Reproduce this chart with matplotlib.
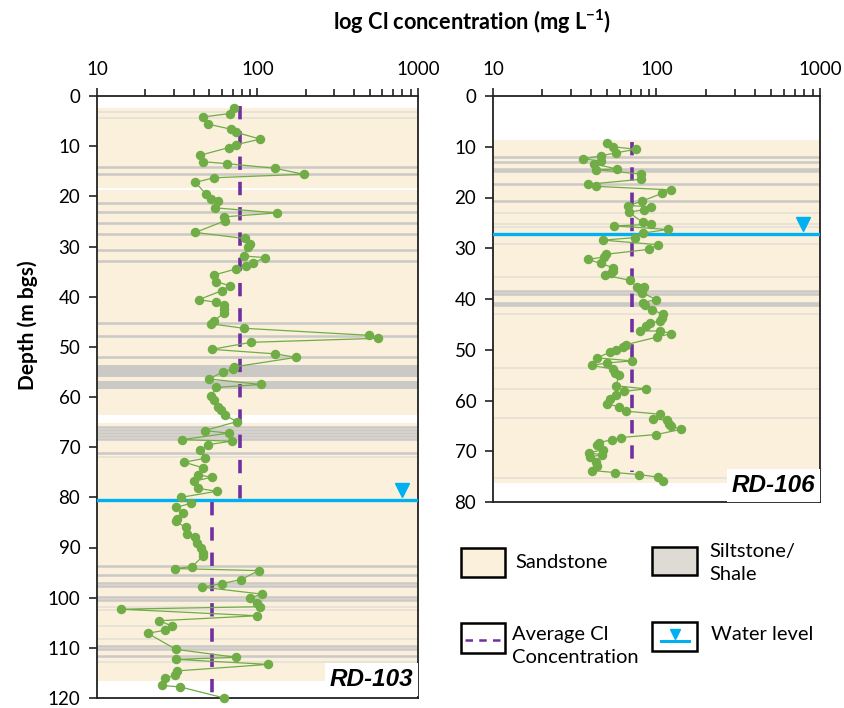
import matplotlib
matplotlib.use("Agg")
import matplotlib.pyplot as plt
from matplotlib.patches import Rectangle
from matplotlib.lines import Line2D
import numpy as np

plt.rcParams['font.family'] = ['Lato', 'DejaVu Sans']
plt.rcParams['mathtext.default'] = 'regular'

# ---------------- data ----------------
rd103_depth = [2.3, 3.5, 4.2, 5.6, 6.6, 7.2, 8.6, 9.7, 10.3, 11.8, 13.1, 13.5, 14.4, 15.6, 16.3, 17.2,
               19.5, 20.5, 21.0, 22.3, 23.3, 24.1, 24.9, 27.2, 28.4, 29.6, 30.1, 31.9, 32.2, 33.3, 33.9,
               34.5, 35.7, 37.0, 37.8, 38.8, 40.6, 41.1, 41.7, 42.5, 43.3, 44.8, 45.4, 46.3, 47.7, 48.3,
               49.1, 50.5, 51.4, 52.1, 54.0, 54.4, 55.0, 56.4, 57.5, 58.1, 59.9, 60.5, 61.9, 62.6, 63.6,
               64.9, 66.7, 67.2, 68.5, 68.8, 69.5, 70.6, 72.2, 73.0, 74.1, 75.5, 76.0, 76.8, 78.2, 78.8,
               80.0, 81.2, 82.0, 83.1, 84.3, 84.8, 86.0, 87.3, 88.0, 89.1, 90.1, 91.1, 91.6, 93.8, 94.2,
               94.6, 96.4, 97.2, 97.9, 99.3, 100.0, 101.1, 101.8, 102.3, 103.6, 104.6, 105.7, 106.5,
               107.1, 110.3, 111.9, 112.3, 113.3, 114.6, 115.5, 116.0, 117.5, 117.8, 120.0]
rd103_cl = [71, 67, 45.5, 49, 68, 73, 104, 73.5, 66, 44, 46, 65, 128, 194, 53.6, 41,
            47.6, 51.3, 56.7, 54.6, 132, 61.5, 62.4, 41, 83, 90, 87, 82, 111, 94, 85,
            73, 53.4, 55, 67, 60, 43, 55, 62, 62, 61.5, 53.6, 51, 82, 493, 561,
            91, 52, 129, 174, 71.4, 70, 61.3, 49.6, 105, 55.2, 51.3, 53.4, 56.7, 59.4, 62.4,
            74.4, 46.9, 66, 33.9, 68.9, 49.4, 44.1, 47.3, 35, 45.5, 42.4, 51.8, 40.2, 42.6, 55.6,
            33.4, 38.5, 31, 34.3, 31.7, 31, 35.7, 36.2, 40.8, 41.7, 44.6, 45.5, 46, 39.3, 30.7,
            102, 78.8, 59.8, 45.3, 107, 90, 98.9, 104, 14.1, 99.8, 24.5, 29.5, 26.4,
            20.7, 31, 73.9, 31, 117, 31.5, 30.7, 26.6, 25.4, 33.1, 62]

rd106_depth = [9.3, 10.0, 10.5, 11.2, 11.8, 12.4, 12.8, 13.4, 14.4, 14.5, 15.4, 16.4, 17.4, 17.8, 18.5,
               19.2, 20.7, 21.6, 21.8, 22.4, 22.9, 24.9, 25.3, 25.6, 26.3, 27.0, 27.9, 28.4, 29.3, 30.2,
               31.2, 31.7, 32.2, 33.0, 33.8, 34.4, 34.9, 35.3, 36.3, 37.6, 37.7, 38.1, 38.8, 40.1, 40.7,
               41.2, 42.1, 43.0, 43.8, 44.4, 44.7, 45.3, 46.3, 46.3, 46.8, 47.5, 49.0, 49.4, 50.0, 50.5,
               51.6, 52.2, 52.6, 53.1, 53.8, 54.5, 55.0, 57.1, 57.7, 58.2, 59.0, 59.8, 60.6, 61.3, 62.1,
               62.7, 63.6, 63.9, 64.6, 65.0, 65.7, 66.7, 67.3, 67.7, 68.3, 68.8, 69.7, 70.3, 70.7, 71.1,
               72.1, 73.0, 73.8, 74.2, 74.6, 75.1, 75.9]
rd106_cl = [49.6, 54, 75, 56.3, 45.6, 35.4, 46, 41.7, 57.6, 42.8, 80.7, 80.7, 38.3, 42.5, 122,
            107.6, 81.8, 67.3, 92, 83.9, 67.8, 82.2, 92, 55.2, 117, 83, 74.3, 47.3, 102, 90.5,
            48.8, 48, 38.3, 45.7, 54, 54, 52.5, 48.2, 68.5, 76, 84, 79, 81.8, 100, 82.6,
            85.6, 94, 109, 108, 105, 91, 86, 79, 105, 123, 101, 64.9, 62.3, 56.3, 51.6,
            43.5, 71, 49.6, 40.2, 54, 55.5, 58.9, 56.6, 86, 63.7, 56.3, 52, 50.1, 59.2, 65.1,
            105, 94.8, 116, 119, 122, 141, 100, 60.4, 53.6, 44.7, 43.5, 47.3, 38.5, 46.5, 39.4,
            42.6, 43.5, 40.3, 55.9, 78.3, 102, 109]

# averages: (value, depth_from, depth_to)
rd103_avg = [(77.8, 2.0, 81.0), (52.0, 81.0, 120.0)]
rd106_avg = [(70.8, 9.0, 74.0)]

rd103_water = 80.5
rd106_water = 27.2

# lithology
rd103_sand = (2.3, 116.6)
rd103_gaps = [(18.3, 18.7), (63.6, 65.1)]
rd103_shale_bands = [(53.6, 56.0), (56.8, 58.5)]
rd103_shale = [14.2, 15.6, 21.4, 23.2, 25.4, 27.5, 30.6, 32.8, 45.3, 47.9, 52.1,
               66.0, 66.6, 67.2, 67.8, 68.4, 71.2, 93.7, 95.5, 97.0, 97.6, 99.8, 100.4,
               109.7, 110.3, 111.7]
rd103_light = [3.1, 4.4, 71.9, 101.9, 102.4, 105.7, 108.3, 112.8]

rd106_sand = (8.7, 76.2)
rd106_shale = [12.0, 13.1, 14.3, 14.7, 17.3, 20.6, 38.4, 39.1, 40.7, 41.1]
rd106_light = [23.1, 25.2, 25.9, 29.2, 35.6, 43.0, 53.5, 57.7, 63.4, 75.2]

# ---------------- style ----------------
SAND = '#FAF0DC'
SHALE = '#CBC9C6'
SHALE_LIGHT = '#E6E1D6'
GREEN = '#70AD47'
PURPLE = '#7030A0'
BLUE = '#00B0F0'
FS = 13.5

W, H = 845, 708
fig = plt.figure(figsize=(W / 100, H / 100), dpi=100)


def px_axes(x0, y0, x1, y1):
    return fig.add_axes([x0 / W, 1 - y1 / H, (x1 - x0) / W, (y1 - y0) / H])


def setup(ax, ymax):
    ax.set_xscale('log')
    ax.set_xlim(10, 1000)
    ax.set_ylim(ymax, 0)
    ax.set_yticks(np.arange(0, ymax + 1, 10))
    ax.xaxis.tick_top()
    ax.tick_params(axis='x', which='both', direction='out', top=True, bottom=False,
                   labelsize=FS, pad=7, width=1.2, color='#222222')
    ax.tick_params(axis='x', which='major', length=6)
    ax.tick_params(axis='x', which='minor', length=5)
    ax.tick_params(axis='y', direction='out', length=6, width=1.2, labelsize=FS, pad=6,
                   color='#222222')
    ax.set_xticks([10, 100, 1000])
    ax.set_xticklabels(['10', '100', '1000'])
    for s in ax.spines.values():
        s.set_linewidth(1.3)
        s.set_color('#222222')


def draw_panel(ax, ymax, depth, cl, avg, water, sand, gaps, bands, shale, light, label):
    setup(ax, ymax)
    ax.axhspan(sand[0], sand[1], color=SAND, lw=0, zorder=0)
    for g0, g1 in gaps:
        ax.axhspan(g0, g1, color='white', lw=0, zorder=0.5)
    for b0, b1 in bands:
        ax.axhspan(b0, b1, color=SHALE, lw=0, zorder=0.6)
    for d in light:
        ax.axhline(d, color=SHALE_LIGHT, lw=1.2, zorder=0.7)
    for d in shale:
        ax.axhline(d, color=SHALE, lw=1.8, zorder=0.8)
    for v, d0, d1 in avg:
        ax.plot([v, v], [d0, d1], color=PURPLE, lw=2.6, linestyle=(0, (3.7, 3.3)), zorder=3)
    ax.axhline(water, color=BLUE, lw=2.4, zorder=4)
    ax.plot([790], [water - 1.9], marker='v', color=BLUE,
            markersize=10, zorder=5, clip_on=False)
    ax.plot(cl, depth, color=GREEN, lw=0.9, marker='o', markersize=5.8, zorder=6, clip_on=False)
    ax.text(0.985, 0.012, label, transform=ax.transAxes, ha='right', va='bottom',
            fontsize=17.5, fontweight='bold', fontstyle='italic', family='Liberation Sans',
            bbox=dict(facecolor='white', edgecolor='none', pad=3.5), zorder=7)


ax1 = px_axes(97, 96, 418, 698)
draw_panel(ax1, 120, rd103_depth, rd103_cl, rd103_avg, rd103_water, rd103_sand, rd103_gaps,
           rd103_shale_bands, rd103_shale, rd103_light, 'RD-103')
fig.text(28 / W, 1 - 325 / H, 'Depth (m bgs)', rotation=90, ha='center', va='center',
         fontsize=FS + 1.5, fontweight='bold')

ax2 = px_axes(493, 96, 820, 502)
draw_panel(ax2, 80, rd106_depth, rd106_cl, rd106_avg, rd106_water, rd106_sand, [],
           [], rd106_shale, rd106_light, 'RD-106')

fig.text(472 / W, 1 - 22 / H, 'log Cl concentration (mg L$^{-1}$)', ha='center', va='center',
         fontsize=FS + 2.2, fontweight='bold')

# ---------------- legend (figure coords in px) ----------------
def fig_rect(x0, y0, x1, y1, fc):
    fig.patches.append(Rectangle((x0 / W, 1 - y1 / H), (x1 - x0) / W, (y1 - y0) / H,
                                 transform=fig.transFigure, facecolor=fc, edgecolor='black',
                                 lw=1.8, zorder=5))


def fig_text(x, y, s):
    fig.text(x / W, 1 - y / H, s, ha='left', va='center', fontsize=FS + 1, linespacing=1.45)


fig_rect(461, 548, 505, 577, SAND)
fig_text(515, 563, 'Sandstone')
fig_rect(652, 547, 697, 575, '#DEDBD4')
fig_text(709, 563, 'Siltstone/\nShale')
fig_rect(461, 623, 505, 653, 'white')
fig.lines.append(Line2D([465 / W, 502 / W], [1 - 640 / H, 1 - 640 / H], transform=fig.transFigure,
                        color=PURPLE, lw=1.8, linestyle=(0, (3, 2.5)), zorder=6))
fig_text(512, 646, 'Average Cl\nConcentration')
fig_rect(652, 622, 697, 651, 'white')
fig.lines.append(Line2D([661 / W, 689 / W], [1 - 641 / H, 1 - 641 / H], transform=fig.transFigure,
                        color=BLUE, lw=2.2, zorder=6))
fig.lines.append(Line2D([675 / W], [1 - 634 / H], transform=fig.transFigure, marker='v',
                        color=BLUE, markersize=7, zorder=6))
fig_text(711, 635, 'Water level')

fig.savefig('out.png', dpi=100)
